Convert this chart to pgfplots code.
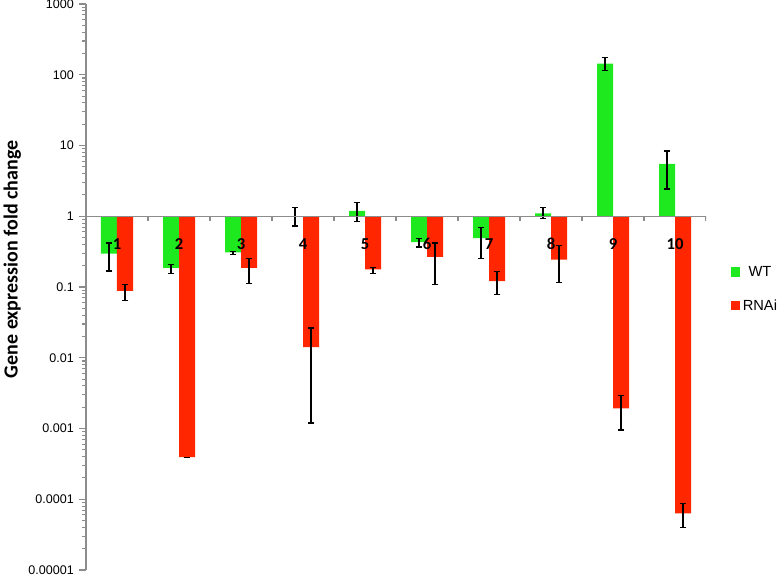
\documentclass[border=0pt]{standalone}
\usepackage{fontspec}
\setmainfont{Liberation Sans}
\newfontfamily\calfont{Carlito}
\usepackage{pgfplots}
\usepackage{pgfplotstable}
\pgfplotsset{compat=1.18}
\definecolor{wtgreen}{RGB}{30,232,30}
\definecolor{rnared}{RGB}{255,38,0}
\definecolor{axgray}{RGB}{140,140,140}

\pgfplotstableread{
x y ep em
1 0.296 0.122 0.128
2 0.187 0.023 0.033
3 0.309 0.011 0.023
4 1.0 0.32 0.27
5 1.19 0.38 0.35
6 0.432 0.048 0.065
7 0.491 0.203 0.239
8 1.1 0.22 0.18
9 144 33 28
10 5.48 2.87 3.06
}\wtdata

\pgfplotstableread{
x y ep em
1 0.0879 0.021 0.023
2 0.000394 0 0
3 0.187 0.065 0.075
4 0.0141 0.0122 0.0129
5 0.177 0.013 0.023
6 0.266 0.152 0.157
7 0.121 0.043 0.042
8 0.244 0.14 0.129
9 0.00192 0.00097 0.00097
10 0.000063 0.0000235 0.0000235
}\rnadata

\begin{document}
\begin{tikzpicture}
\begin{axis}[
  name=ax,
  scale only axis, width=465pt, height=424.5pt,
  ymode=log, ymin=1e-5, ymax=1000,
  xmin=0.5, xmax=10.5,
  axis on top,
  axis x line=middle, axis y line=left,
  axis line style={axgray, line width=0.8pt, -},
  ytick={1e-5,1e-4,1e-3,1e-2,1e-1,1,10,100,1000},
  yticklabels={0.00001,0.0001,0.001,0.01,0.1,1,10,100,1000},
  yticklabel style={font=\fontsize{9.4}{11}\selectfont, inner xsep=1.5pt, xshift=-2.5pt},
  ytick style={axgray, line width=0.8pt},
  tick align=outside, major tick length=5pt,
  minor y tick num=0,
  /pgf/number format/assume math mode=true,
  xtick={1,...,10},
  xticklabels={1,2,3,4,5,6,7,8,9,10},
  xtick style={draw=none},
  xticklabel style={font=\calfont\bfseries\fontsize{12.5}{14}\selectfont, yshift=-8pt},
  ylabel={Gene expression fold change},
  ylabel style={font=\calfont\bfseries\fontsize{15}{18}\selectfont, at={(axis description cs:-0.119,0.549)}, anchor=center},
  ybar=0pt, bar width=12pt,
  legend style={at={(axis description cs:1.04,0.4965)}, anchor=west, draw=none, fill=none,
    font=\fontsize{11}{13}\selectfont, row sep=12pt, inner sep=0pt},
  legend image code/.code={\path[#1,draw=none] (0pt,-3.4pt) rectangle (6.8pt,3.4pt);},
  error bars/error mark=-,
  error bars/error bar style={draw=black, line width=0.9pt},
  error bars/error mark options={draw=black, line width=0.9pt, mark size=2.6pt, rotate=90},
]
\addplot[fill=wtgreen, draw=none,
  error bars/.cd, y dir=both, y explicit]
  table[x=x, y=y, y error plus=ep, y error minus=em] {\wtdata};
\addplot[fill=rnared, draw=none,
  error bars/.cd, y dir=both, y explicit]
  table[x=x, y=y, y error plus=ep, y error minus=em] {\rnadata};
\legend{WT, RNAi}
\pgfplotsinvokeforeach{1.5,2.5,3.5,4.5,5.5,6.5,7.5,8.5,9.5,10.5}{
  \draw[axgray, line width=0.8pt] (axis cs:#1,1) -- ([yshift=-3.5pt]axis cs:#1,1);
}
\end{axis}
\pgfresetboundingbox
\useasboundingbox ([shift={(-64.5pt,-9pt)}]ax.south west) rectangle ([shift={(55.5pt,3pt)}]ax.north east);
\end{tikzpicture}
\end{document}
